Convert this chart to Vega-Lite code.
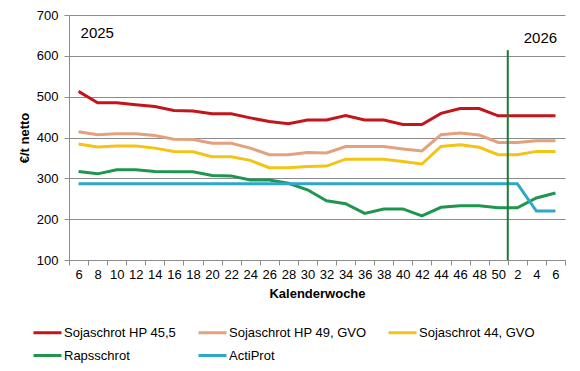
{
  "$schema": "https://vega.github.io/schema/vega-lite/v6.json",
  "width": 496,
  "height": 245,
  "autosize": "none",
  "padding": {"left": 69, "top": 15, "right": 15, "bottom": 111},
  "background": "white",
  "config": {
    "view": {"stroke": null},
    "font": "Liberation Sans",
    "axis": {"labelFont": "Liberation Sans", "titleFont": "Liberation Sans", "labelColor": "#000000", "titleColor": "#000000"}
  },
  "datasets": {
    "prices": [
      {"kw": "25-6", "Sojaschrot HP 45,5": 513, "Sojaschrot HP 49, GVO": 414, "Sojaschrot 44, GVO": 384, "Rapsschrot": 317, "ActiProt": 287},
      {"kw": "25-8", "Sojaschrot HP 45,5": 485, "Sojaschrot HP 49, GVO": 407, "Sojaschrot 44, GVO": 377, "Rapsschrot": 311, "ActiProt": 287},
      {"kw": "25-10", "Sojaschrot HP 45,5": 485, "Sojaschrot HP 49, GVO": 409, "Sojaschrot 44, GVO": 379, "Rapsschrot": 321, "ActiProt": 287},
      {"kw": "25-12", "Sojaschrot HP 45,5": 480, "Sojaschrot HP 49, GVO": 409, "Sojaschrot 44, GVO": 379, "Rapsschrot": 321, "ActiProt": 287},
      {"kw": "25-14", "Sojaschrot HP 45,5": 476, "Sojaschrot HP 49, GVO": 405, "Sojaschrot 44, GVO": 374, "Rapsschrot": 317, "ActiProt": 287},
      {"kw": "25-16", "Sojaschrot HP 45,5": 466, "Sojaschrot HP 49, GVO": 396, "Sojaschrot 44, GVO": 366, "Rapsschrot": 316, "ActiProt": 287},
      {"kw": "25-18", "Sojaschrot HP 45,5": 465, "Sojaschrot HP 49, GVO": 395, "Sojaschrot 44, GVO": 365, "Rapsschrot": 316, "ActiProt": 287},
      {"kw": "25-20", "Sojaschrot HP 45,5": 458, "Sojaschrot HP 49, GVO": 386, "Sojaschrot 44, GVO": 353, "Rapsschrot": 307, "ActiProt": 287},
      {"kw": "25-22", "Sojaschrot HP 45,5": 458, "Sojaschrot HP 49, GVO": 386, "Sojaschrot 44, GVO": 353, "Rapsschrot": 306, "ActiProt": 287},
      {"kw": "25-24", "Sojaschrot HP 45,5": 448, "Sojaschrot HP 49, GVO": 374, "Sojaschrot 44, GVO": 344, "Rapsschrot": 296, "ActiProt": 287},
      {"kw": "25-26", "Sojaschrot HP 45,5": 439, "Sojaschrot HP 49, GVO": 358, "Sojaschrot 44, GVO": 326, "Rapsschrot": 296, "ActiProt": 287},
      {"kw": "25-28", "Sojaschrot HP 45,5": 434, "Sojaschrot HP 49, GVO": 358, "Sojaschrot 44, GVO": 326, "Rapsschrot": 288, "ActiProt": 287},
      {"kw": "25-30", "Sojaschrot HP 45,5": 443, "Sojaschrot HP 49, GVO": 363, "Sojaschrot 44, GVO": 329, "Rapsschrot": 272, "ActiProt": 287},
      {"kw": "25-32", "Sojaschrot HP 45,5": 443, "Sojaschrot HP 49, GVO": 362, "Sojaschrot 44, GVO": 330, "Rapsschrot": 245, "ActiProt": 287},
      {"kw": "25-34", "Sojaschrot HP 45,5": 454, "Sojaschrot HP 49, GVO": 378, "Sojaschrot 44, GVO": 347, "Rapsschrot": 238, "ActiProt": 287},
      {"kw": "25-36", "Sojaschrot HP 45,5": 443, "Sojaschrot HP 49, GVO": 378, "Sojaschrot 44, GVO": 347, "Rapsschrot": 214, "ActiProt": 287},
      {"kw": "25-38", "Sojaschrot HP 45,5": 443, "Sojaschrot HP 49, GVO": 378, "Sojaschrot 44, GVO": 347, "Rapsschrot": 225, "ActiProt": 287},
      {"kw": "25-40", "Sojaschrot HP 45,5": 432, "Sojaschrot HP 49, GVO": 372, "Sojaschrot 44, GVO": 341, "Rapsschrot": 225, "ActiProt": 287},
      {"kw": "25-42", "Sojaschrot HP 45,5": 432, "Sojaschrot HP 49, GVO": 367, "Sojaschrot 44, GVO": 335, "Rapsschrot": 208, "ActiProt": 287},
      {"kw": "25-44", "Sojaschrot HP 45,5": 459, "Sojaschrot HP 49, GVO": 407, "Sojaschrot 44, GVO": 378, "Rapsschrot": 229, "ActiProt": 287},
      {"kw": "25-46", "Sojaschrot HP 45,5": 471, "Sojaschrot HP 49, GVO": 411, "Sojaschrot 44, GVO": 382, "Rapsschrot": 233, "ActiProt": 287},
      {"kw": "25-48", "Sojaschrot HP 45,5": 471, "Sojaschrot HP 49, GVO": 406, "Sojaschrot 44, GVO": 376, "Rapsschrot": 233, "ActiProt": 287},
      {"kw": "25-50", "Sojaschrot HP 45,5": 453, "Sojaschrot HP 49, GVO": 388, "Sojaschrot 44, GVO": 358, "Rapsschrot": 228, "ActiProt": 287},
      {"kw": "26-2", "Sojaschrot HP 45,5": 453, "Sojaschrot HP 49, GVO": 388, "Sojaschrot 44, GVO": 358, "Rapsschrot": 228, "ActiProt": 287},
      {"kw": "26-4", "Sojaschrot HP 45,5": 453, "Sojaschrot HP 49, GVO": 392, "Sojaschrot 44, GVO": 366, "Rapsschrot": 252, "ActiProt": 220},
      {"kw": "26-6", "Sojaschrot HP 45,5": 453, "Sojaschrot HP 49, GVO": 392, "Sojaschrot 44, GVO": 366, "Rapsschrot": 264, "ActiProt": 220}
    ],
    "marker": [{"kw": "26-2", "top": 614, "bottom": 100}],
    "year1": [{"kw": "25-6", "y": 656, "t": "2025"}],
    "year2": [{"kw": "26-4", "y": 644, "t": "2026"}]
  },
  "layer": [
    {
      "data": {"name": "prices"},
      "transform": [
        {"fold": ["Sojaschrot HP 45,5", "Sojaschrot HP 49, GVO", "Sojaschrot 44, GVO", "Rapsschrot", "ActiProt"], "as": ["serie", "v"]}
      ],
      "mark": {"type": "line", "strokeWidth": 3, "interpolate": "linear"},
      "encoding": {
        "x": {
          "field": "kw", "type": "ordinal", "sort": null, "bandPosition": 0.5,
          "scale": {
            "type": "band", "paddingInner": 0, "paddingOuter": 0,
            "domain": ["25-6", "25-8", "25-10", "25-12", "25-14", "25-16", "25-18", "25-20", "25-22", "25-24", "25-26", "25-28", "25-30", "25-32", "25-34", "25-36", "25-38", "25-40", "25-42", "25-44", "25-46", "25-48", "25-50", "26-2", "26-4", "26-6"]
          },
          "axis": {
            "title": "Kalenderwoche", "titleFontSize": 13, "titleFontWeight": "bold", "titlePadding": 6,
            "labelExpr": "split(datum.label, '-')[1]", "labelAngle": 0, "labelFontSize": 13, "labelPadding": 3,
            "tickBand": "extent", "tickSize": 5, "tickColor": "#8C8C8C", "domainColor": "#8C8C8C",
            "grid": false, "labelOverlap": false
          }
        },
        "y": {
          "field": "v", "type": "quantitative",
          "scale": {"domain": [100, 700], "nice": false, "zero": false},
          "axis": {
            "title": "€/t netto", "titleFontSize": 13, "titleFontWeight": "bold", "titlePadding": 5,
            "values": [100, 200, 300, 400, 500, 600, 700], "labelFontSize": 13, "labelPadding": 6,
            "tickSize": 5, "tickColor": "#8C8C8C", "domainColor": "#8C8C8C",
            "grid": true, "gridColor": "#8C8C8C", "gridWidth": 1
          }
        },
        "color": {
          "field": "serie", "type": "nominal",
          "scale": {
            "domain": ["Sojaschrot HP 45,5", "Sojaschrot HP 49, GVO", "Sojaschrot 44, GVO", "Rapsschrot", "ActiProt"],
            "range": ["#C3161C", "#E4A17E", "#F3C416", "#1F9650", "#2DA8C9"]
          },
          "legend": {
            "title": null, "orient": "none", "legendX": -37, "legendY": 302, "direction": "horizontal",
            "columns": 3, "columnPadding": 15, "rowPadding": 0, "padding": 0,
            "symbolType": "stroke", "symbolSize": 784, "symbolStrokeWidth": 3,
            "labelFontSize": 13, "labelFont": "Liberation Sans", "labelColor": "#000000", "labelOffset": 1, "labelLimit": 300
          }
        }
      }
    },
    {
      "data": {"name": "marker"},
      "mark": {"type": "rule", "color": "#1B7A35", "strokeWidth": 2},
      "encoding": {
        "x": {"field": "kw", "type": "ordinal", "sort": null, "bandPosition": 0},
        "y": {"field": "top", "type": "quantitative"},
        "y2": {"field": "bottom"}
      }
    },
    {
      "data": {"name": "year1"},
      "mark": {"type": "text", "fontSize": 15, "font": "Liberation Sans", "color": "#000000", "baseline": "middle", "align": "left", "dx": 2},
      "encoding": {
        "x": {"field": "kw", "type": "ordinal", "sort": null, "bandPosition": 0.5},
        "y": {"field": "y", "type": "quantitative"},
        "text": {"field": "t"}
      }
    },
    {
      "data": {"name": "year2"},
      "mark": {"type": "text", "fontSize": 15, "font": "Liberation Sans", "color": "#000000", "baseline": "middle", "align": "center", "dx": 4},
      "encoding": {
        "x": {"field": "kw", "type": "ordinal", "sort": null, "bandPosition": 0.5},
        "y": {"field": "y", "type": "quantitative"},
        "text": {"field": "t"}
      }
    }
  ]
}
